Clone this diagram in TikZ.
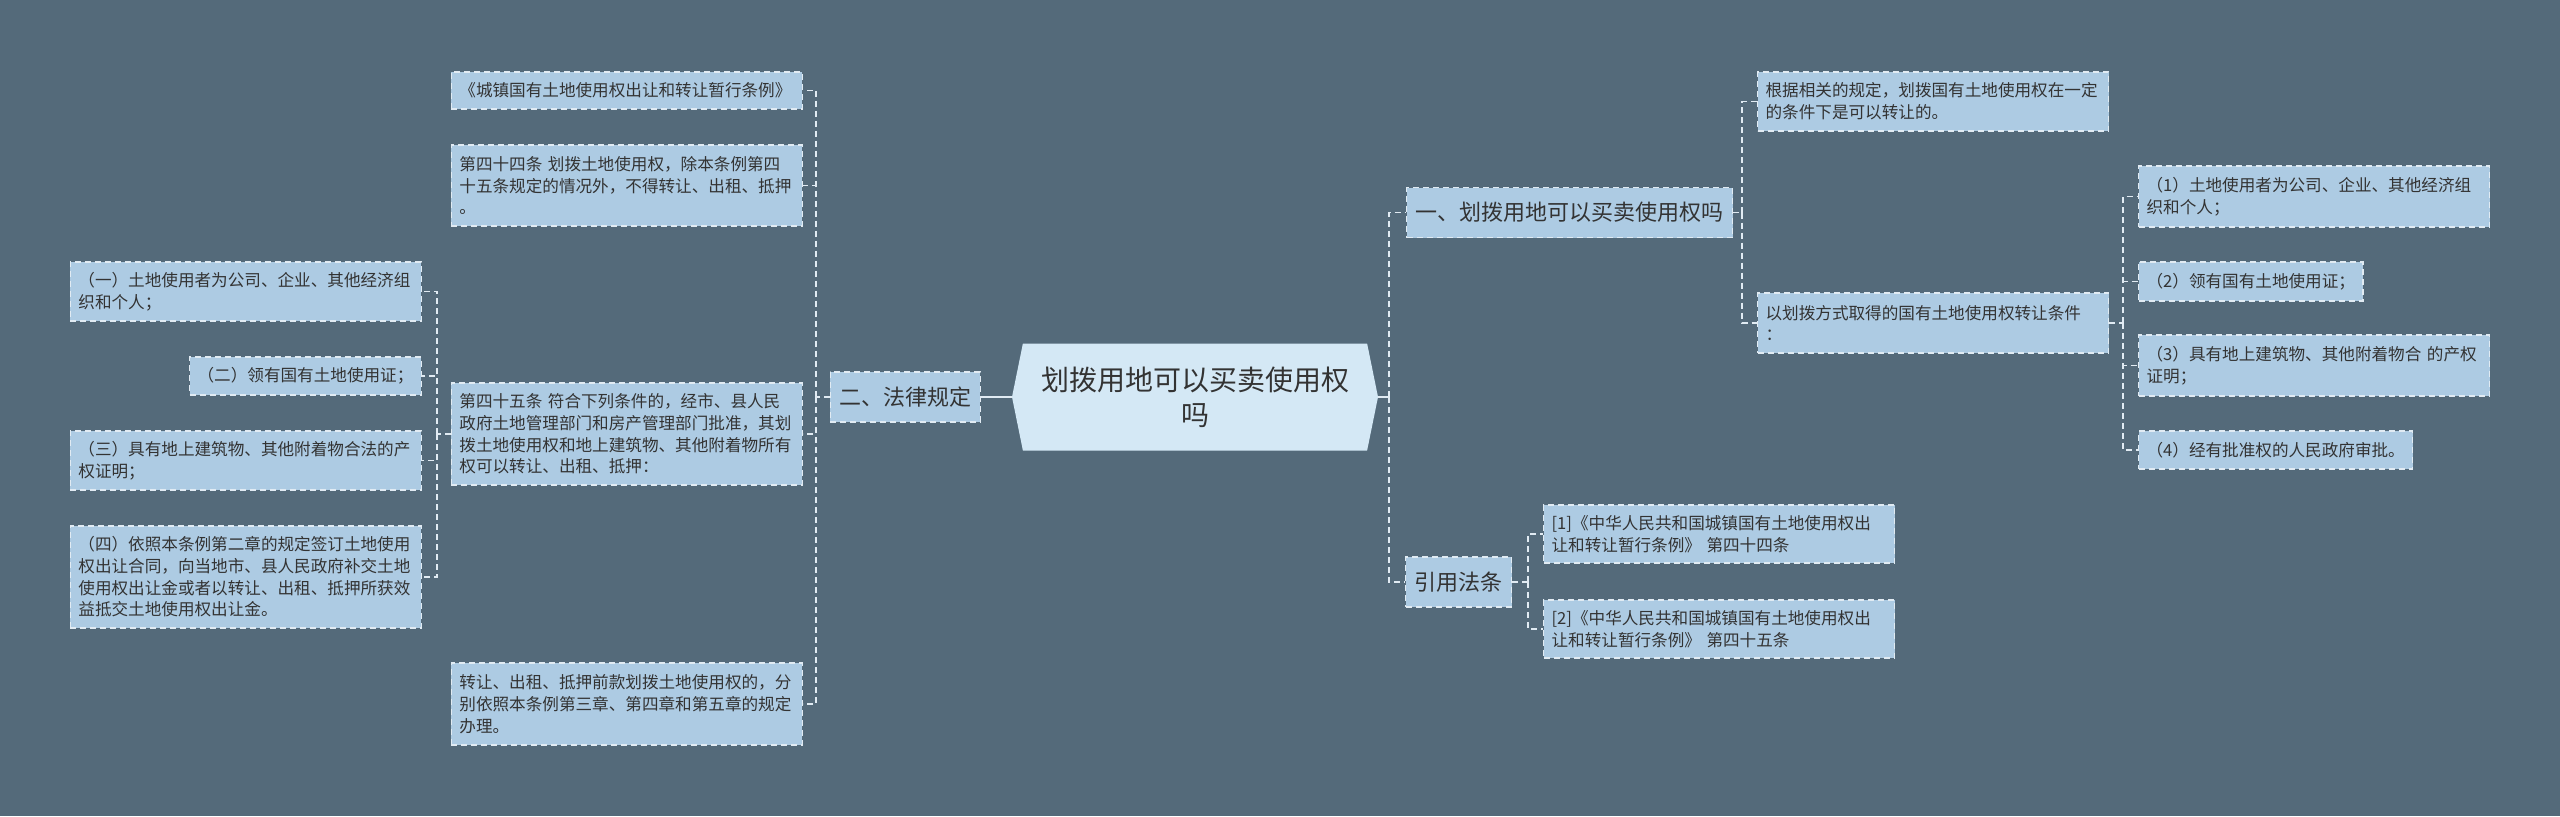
\documentclass[tikz,border=0pt]{standalone}
\usepackage{fontspec}
\setmainfont{Noto Sans CJK SC}
\usepackage{tikz}
\usetikzlibrary{positioning,shapes.symbols}
\definecolor{slate}{RGB}{84,106,122}
\definecolor{leafblue}{RGB}{173,203,227}
\definecolor{hubblue}{RGB}{212,232,245}
\definecolor{edgewhite}{RGB}{225,235,243}
\definecolor{inkgray}{RGB}{51,51,51}

\begin{document}
\begin{tikzpicture}[x=0.5pt,y=-0.5pt,
    hub/.style={signal,signal to=east and west,signal pointer angle=157,
      fill=hubblue,draw=none,text=inkgray,align=center,inner sep=2pt,
      font=\fontsize{14pt}{17.5pt}\selectfont,minimum width=183pt,minimum height=53.5pt},
    branch/.style={rectangle,draw=edgewhite,dash pattern=on 3pt off 2pt,line width=0.6pt,
      fill=leafblue,text=inkgray,inner xsep=4.5pt,minimum height=25pt,
      font=\fontsize{11pt}{13pt}\selectfont},
    leaf/.style={rectangle,draw=edgewhite,dash pattern=on 3pt off 2pt,line width=0.6pt,
      fill=leafblue,text=inkgray,align=left,inner xsep=4pt,inner ysep=3pt,
      font=\fontsize{8.3pt}{10.85pt}\selectfont},
    wide/.style={text width=167.5pt},
    link/.style={draw=edgewhite,dash pattern=on 3pt off 2pt,line width=0.75pt},
    trunk/.style={draw=edgewhite,line width=1pt}]
    \useasboundingbox[fill=slate] (0,0) rectangle (2560,816);

    % root
    \node[hub] (hub) at (1195,397) {划拨用地可以买卖使用权\\吗};

    % left branch
    \node[branch,anchor=east] (law) at (981,397) {二、法律规定};
    \node[leaf,wide,anchor=east,minimum height=18.5pt] (l1) at (803,90.5) {《城镇国有土地使用权出让和转让暂行条例》};
    \node[leaf,wide,anchor=east,minimum height=40.5pt] (l2) at (803,185.5) {第四十四条 划拨土地使用权，除本条例第四\\十五条规定的情况外，不得转让、出租、抵押\\。};
    \node[leaf,wide,anchor=east,minimum height=51pt] (l3) at (803,434) {第四十五条 符合下列条件的，经市、县人民\\政府土地管理部门和房产管理部门批准，其划\\拨土地使用权和地上建筑物、其他附着物所有\\权可以转让、出租、抵押：};
    \node[leaf,wide,anchor=east,minimum height=41pt] (l4) at (803,704) {转让、出租、抵押前款划拨土地使用权的，分\\别依照本条例第三章、第四章和第五章的规定\\办理。};

    \node[leaf,wide,anchor=east,minimum height=29.5pt] (k1) at (422,291.5) {（一）土地使用者为公司、企业、其他经济组\\织和个人；};
    \node[leaf,anchor=east,minimum height=19pt] (k2) at (422,376) {（二）领有国有土地使用证；};
    \node[leaf,wide,anchor=east,minimum height=29.5pt] (k3) at (422,460.5) {（三）具有地上建筑物、其他附着物合法的产\\权证明；};
    \node[leaf,wide,anchor=east,minimum height=51pt] (k4) at (422,577) {（四）依照本条例第二章的规定签订土地使用\\权出让合同，向当地市、县人民政府补交土地\\使用权出让金或者以转让、出租、抵押所获效\\益抵交土地使用权出让金。};

    % right branch
    \node[branch,anchor=west] (can) at (1406,212.5) {一、划拨用地可以买卖使用权吗};
    \node[branch,anchor=west] (cite) at (1405,582) {引用法条};
    \node[leaf,wide,anchor=west,minimum height=29.5pt] (r1) at (1757,101.5) {根据相关的规定，划拨国有土地使用权在一定\\的条件下是可以转让的。};
    \node[leaf,wide,anchor=west,minimum height=30pt] (r2) at (1757,323) {以划拨方式取得的国有土地使用权转让条件\\：};

    \node[leaf,wide,anchor=west,minimum height=30.5pt] (s1) at (2138,196.5) {（1）土地使用者为公司、企业、其他经济组\\织和个人；};
    \node[leaf,anchor=west,minimum height=19.5pt] (s2) at (2138,281.5) {（2）领有国有土地使用证；};
    \node[leaf,wide,anchor=west,minimum height=30.5pt] (s3) at (2138,365.5) {（3）具有地上建筑物、其他附着物合 的产权\\证明；};
    \node[leaf,anchor=west,minimum height=19pt] (s4) at (2138,450) {（4）经有批准权的人民政府审批。};

    \node[leaf,wide,anchor=west,minimum height=29pt] (t1) at (1543,534) {[1]《中华人民共和国城镇国有土地使用权出\\让和转让暂行条例》 第四十四条};
    \node[leaf,wide,anchor=west,minimum height=29pt] (t2) at (1543,629) {[2]《中华人民共和国城镇国有土地使用权出\\让和转让暂行条例》 第四十五条};

    % junctions
    \coordinate (lj) at (816,397);
    \coordinate (kj) at (437,434);
    \coordinate (rj) at (1389,397);
    \coordinate (qj) at (1742,212.5);
    \coordinate (sj) at (2123,323);
    \coordinate (tj) at (1528,582);

    \draw[trunk] (hub.west) -- (law.east);
    \draw[trunk] (hub.east) -- (rj);
    \draw[link] (law.west) -- (lj);
    \foreach \n in {l1,l2,l3,l4} \draw[link] (lj) |- (\n.east);
    \draw[link] (l3.west) -- (kj);
    \foreach \n in {k1,k2,k3,k4} \draw[link] (kj) |- (\n.east);
    \foreach \n in {can,cite} \draw[link] (rj) |- (\n.west);
    \draw[link] (can.east) -- (qj);
    \foreach \n in {r1,r2} \draw[link] (qj) |- (\n.west);
    \draw[link] (r2.east) -- (sj);
    \foreach \n in {s1,s2,s3,s4} \draw[link] (sj) |- (\n.west);
    \draw[link] (cite.east) -- (tj);
    \foreach \n in {t1,t2} \draw[link] (tj) |- (\n.west);
  \end{tikzpicture}
\end{document}
